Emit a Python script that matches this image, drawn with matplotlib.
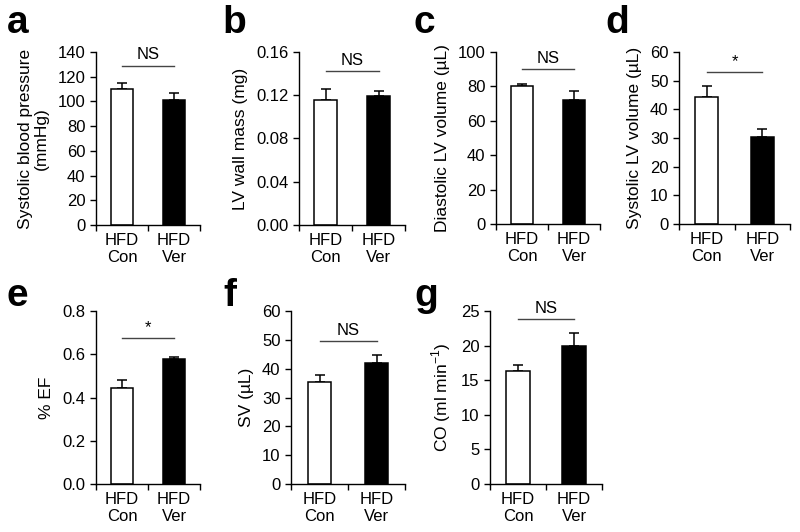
import matplotlib
matplotlib.use("Agg")
import matplotlib.pyplot as plt
import numpy as np

plt.rcParams['font.family'] = ['Liberation Sans', 'DejaVu Sans']
plt.rcParams['mathtext.fontset'] = 'custom'
plt.rcParams['mathtext.rm'] = 'Liberation Sans'

groups = ["HFD\nCon", "HFD\nVer"]

# one entry per panel
letters = ["a", "b", "c", "d", "e", "f", "g"]
ylabels = ["Systolic blood pressure\n(mmHg)", "LV wall mass (mg)",
           "Diastolic LV volume (µL)", "Systolic LV volume (µL)",
           "% EF", "SV (µL)", r"CO (ml min$^{\mathregular{-1}}$)"]
means = [[110, 101], [0.116, 0.119], [80, 72], [44.3, 30.5],
         [0.445, 0.58], [35.5, 41.8], [16.3, 20.0]]
errs = [[5, 6], [0.010, 0.005], [1.5, 5.5], [3.7, 2.5],
        [0.035, 0.008], [2.2, 2.9], [0.9, 1.8]]
yticks = [np.arange(0, 141, 20), [0.00, 0.04, 0.08, 0.12, 0.16],
          np.arange(0, 101, 20), np.arange(0, 61, 10),
          [0.0, 0.2, 0.4, 0.6, 0.8], np.arange(0, 61, 10), np.arange(0, 26, 5)]
ytickfmt = ["{:.0f}", "{:.2f}", "{:.0f}", "{:.0f}", "{:.1f}", "{:.0f}", "{:.0f}"]
sig_text = ["NS", "NS", "NS", "*", "*", "NS", "NS"]
sig_y = [129, 0.142, 90, 52.9, 0.674, 49.6, 23.8]

# axes boxes in pixels: left, right, top, bottom
boxes = [(96, 200, 52, 225), (299, 405, 52, 225), (496, 600, 52, 224), (679, 790, 52, 224),
         (96, 200, 311, 484), (291, 405, 311, 484), (490, 602, 311, 484)]
letter_pos = [(7, 33), (222, 33), (414, 33), (605, 33), (7, 306), (223, 306), (414, 306)]

W, H = 800, 532
fig = plt.figure(figsize=(W / 100, H / 100), dpi=100)

for i in range(7):
    l, r, t, b = boxes[i]
    ax = fig.add_axes([l / W, 1 - b / H, (r - l) / W, (b - t) / H])
    x = np.array([0.5, 1.5])
    ax.bar(x, means[i], width=0.42, color=['white', 'black'], edgecolor='black', linewidth=1.1, zorder=2)
    ax.errorbar(x, means[i], yerr=[[0, 0], errs[i]], fmt='none', ecolor='black',
                elinewidth=1.1, capsize=3.5, capthick=1.1, zorder=1)
    ymax = yticks[i][-1]
    ax.set_ylim(0, ymax)
    ax.set_xlim(0, 2)
    ax.set_yticks(yticks[i])
    ax.set_yticklabels([ytickfmt[i].format(v) for v in yticks[i]], fontsize=12)
    ax.set_xticks([0, 1, 2])
    ax.set_xticklabels([])
    ax.set_xticks(x, minor=True)
    ax.set_xticklabels(groups, minor=True, fontsize=12, linespacing=1.15)
    ax.tick_params(axis='x', which='minor', length=0, pad=6)
    ax.tick_params(axis='both', which='major', direction='out', length=4, width=1)
    for s in ['top', 'right']:
        ax.spines[s].set_visible(False)
    for s in ['left', 'bottom']:
        ax.spines[s].set_linewidth(1)
    ax.set_ylabel(ylabels[i], fontsize=12.5, labelpad=6, linespacing=1.1)
    ax.plot([0.5, 1.5], [sig_y[i], sig_y[i]], color='#444444', linewidth=1, clip_on=False)
    ax.text(1.0, sig_y[i] + ymax * 0.02, sig_text[i], ha='center', va='bottom', fontsize=12)
    fig.text(letter_pos[i][0] / W, 1 - letter_pos[i][1] / H, letters[i],
             fontsize=28, fontweight='bold', ha='left', va='baseline')

fig.savefig("out.png", dpi=100)
